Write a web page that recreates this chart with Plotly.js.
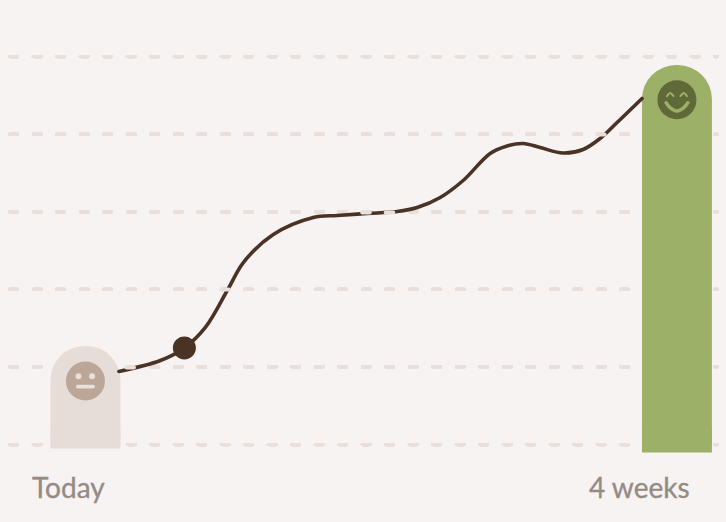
<!DOCTYPE html>
<html>
<head>
<meta charset="utf-8">
<script src="https://cdn.plot.ly/plotly-3.0.1.min.js"></script>
<style>
html,body{margin:0;padding:0;background:#F7F3F3;}
.gridlayer path,.gridlayer line{stroke-linecap:round;}
.scatterlayer path.js-line{stroke-linecap:round;}
.annotation-text{stroke:#948B84;stroke-width:0.35px;}
</style>
</head>
<body>
<div id="chart" style="width:726px;height:522px;"></div>
<script>
// Progress curve: x in days from today, y on a 0-5 score scale
const curveDays = [1.585,3.548,4.683,5.676,6.764,7.474,8.893,10.785,11.921,13.340,14.759,15.705,16.793,17.881,19.158,19.962,20.719,21.523,22.611,23.557,24.361,25.166,26.348];
const curveScores = [0.941,1.082,1.244,1.508,2.010,2.345,2.706,2.925,2.951,2.977,3.003,3.054,3.183,3.402,3.750,3.847,3.879,3.827,3.756,3.802,3.943,4.149,4.459];
const markerDay = [4.683];
const markerScore = [1.244];

const barDays = [0, 28];
const barTops = [1.27, 4.89];
const barBases = [-0.05, -0.103];
const barStubTops = [0.2, 0.2];
const barColors = ['#E6DDD8', '#9DB068'];

const scoreTicks = [0, 1, 2, 3, 4, 5];
const labels = ['Today', '4 weeks'];
const labelDays = [-0.804, 26.206];
const labelScore = -0.55;

// Short grid dashes that sit over the curve
const overDays = [1.939,2.294,null,6.433,6.788,null,13.103,13.458,null,14.215,14.57,null,24.219,24.574];
const overScores = [0.992,0.992,null,1.997,1.997,null,2.990,2.990,null,2.990,2.990,null,3.995,3.995];

// Faces
const faceDays = [0, 28];
const faceScores = [0.818, 4.442];
const faceColors = ['#BBA698', '#5F6A38'];
const neutralEyeDays = [-0.331, 0.317];
const neutralEyeScores = [0.880, 0.880];
const neutralMouthDays = [-0.364, 0.364];
const neutralMouthScores = [0.745, 0.745];
const smileDays = [27.483,27.66,28,28.34,28.517];
const smileScores = [4.405,4.345,4.298,4.345,4.405];
const leftEyeDays = [27.53,27.672,27.84];
const rightEyeDays = [28.16,28.332,28.47];
const happyEyeScores = [4.49,4.53,4.49];

const BG = '#F7F3F3', GRID = '#E9E0DB', LINE = '#4A3325', NEUTRAL_FG = '#E9E0DB', HAPPY_FG = '#9DB068';
const pxPerDay = 21.14, pxPerScore = 77.6, day0 = 85, score0 = 444.5;
const L = 9.5, R = 717, W = 726, H = 522;

function lineTrace(x, y, color, width, shape) {
  return {type:'scatter', mode:'lines', x, y, hoverinfo:'skip', cliponaxis:false,
          connectgaps:false, line:{color, width, shape: shape || 'linear'}};
}

const data = [
  {type:'bar', x:barDays, y:barTops, width:70/pxPerDay,
   marker:{color:barColors, line:{width:0}, cornerradius:35}, hoverinfo:'skip'},
  {type:'bar', x:barDays, y:barStubTops.map((t,i)=>t-barBases[i]), base:barBases, width:70/pxPerDay,
   marker:{color:barColors, line:{width:0}}, hoverinfo:'skip'},
  lineTrace(curveDays, curveScores, LINE, 3.6, 'spline'),
  lineTrace(overDays, overScores, GRID, 4),
  {type:'scatter', mode:'markers', x:markerDay, y:markerScore, hoverinfo:'skip',
   marker:{size:23, color:LINE}},
  {type:'scatter', mode:'markers', x:faceDays, y:faceScores, hoverinfo:'skip',
   marker:{size:39, color:faceColors}},
  {type:'scatter', mode:'markers', x:neutralEyeDays, y:neutralEyeScores, hoverinfo:'skip',
   marker:{size:6, color:NEUTRAL_FG}},
  lineTrace(neutralMouthDays, neutralMouthScores, NEUTRAL_FG, 3.7),
  lineTrace(smileDays, smileScores, HAPPY_FG, 3.4, 'spline'),
  lineTrace(leftEyeDays, happyEyeScores, HAPPY_FG, 2, 'spline'),
  lineTrace(rightEyeDays, happyEyeScores, HAPPY_FG, 2, 'spline')
];

const layout = {
  width:W, height:H, showlegend:false,
  margin:{l:L, r:W-R, t:0, b:0, pad:0},
  paper_bgcolor:BG, plot_bgcolor:BG,
  barmode:'overlay',
  xaxis:{range:[(L-day0)/pxPerDay,(R-day0)/pxPerDay], showgrid:false, zeroline:false,
         showticklabels:false, ticks:'', showline:false, fixedrange:true},
  yaxis:{range:[(score0-H)/pxPerScore, score0/pxPerScore], tickmode:'array', tickvals:scoreTicks,
         showgrid:true, gridcolor:GRID, gridwidth:4, griddash:'7.5px,16px', zeroline:false,
         showticklabels:false, ticks:'', showline:false, fixedrange:true},
  annotations: labels.map((t,i)=>({text:t, x:labelDays[i], y:labelScore, xref:'x', yref:'y',
    showarrow:false, xanchor:'center', yanchor:'middle',
    font:{family:'Lato, sans-serif', size:28, color:'#948B84'}}))
};

Plotly.newPlot('chart', data, layout, {displayModeBar:false, staticPlot:true});
</script>
</body>
</html>
